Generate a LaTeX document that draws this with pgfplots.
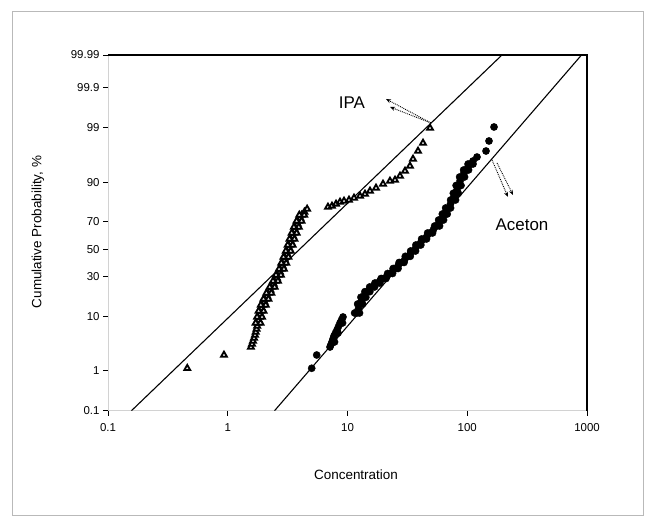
\documentclass[border=0pt]{standalone}
\usepackage{fontspec}
\setmainfont{Liberation Sans}
\usepackage{pgfplots}
\pgfplotsset{compat=1.18}
\usetikzlibrary{arrows.meta}
\begin{document}
\begin{tikzpicture}[x=1bp,y=1bp]
\useasboundingbox (0,0) rectangle (655,526);
\draw[gray!55, line width=1bp] (12,10) rectangle (643,514);
\begin{axis}[
  at={(108bp,115.3bp)}, anchor=south west,
  scale only axis, width=479bp, height=355.7bp,
  xmode=log, xmin=0.1, xmax=1000, ymin=-3.0902, ymax=3.7190,
  xtick={0.1,1,10,100,1000}, xticklabels={0.1,1,10,100,1000},
  xminorticks=false,
  ytick={-3.0902,-2.3263,-1.2816,-0.5244,0,0.5244,1.2816,2.3263,3.0902,3.7190},
  yticklabels={0.1,1,10,30,50,70,90,99,99.9,99.99},
  xtick pos=left, ytick pos=left,
  tick align=outside, major tick length=5bp,
  tick style={black, line width=0.9bp},
  axis line style={gray!35, line width=0.8bp},
  tick label style={font=\fontsize{11.5}{13}\selectfont},
  xticklabel style={yshift=-4bp},
  clip=true,
]
% fit lines
\addplot[black, line width=1.1bp] coordinates {(0.157,-3.0902) (195,3.7190)};
\addplot[black, line width=1.1bp] coordinates {(2.46,-3.0902) (900,3.7190)};
% IPA
\addplot[only marks, mark=triangle*, mark size=3.4bp, mark options={fill=black!10, draw=black, line width=1.8bp}] coordinates {
(0.459,-2.278) (0.93,-2.024)
(1.561,-1.871) (1.594,-1.813) (1.625,-1.756) (1.657,-1.698) (1.689,-1.641)
(1.712,-1.584) (1.739,-1.526) (1.762,-1.469) (1.789,-1.411) (1.813,-1.354)
(1.841,-1.296) (1.870,-1.239) (1.895,-1.182) (1.924,-1.124) (1.977,-1.067)
(2.027,-1.009) (2.083,-0.952) (2.135,-0.894) (2.202,-0.837) (2.271,-0.780)
(2.346,-0.722) (2.419,-0.665) (2.500,-0.607) (2.573,-0.550) (2.648,-0.492)
(2.726,-0.435) (2.806,-0.378) (2.871,-0.320) (2.933,-0.263) (2.995,-0.205)
(3.059,-0.148) (3.136,-0.090) (3.197,-0.033) (3.260,0.024) (3.317,0.082)
(3.381,0.139) (3.433,0.197) (3.507,0.254) (3.582,0.312) (3.651,0.369)
(3.736,0.426) (3.831,0.484) (3.936,0.541) (4.035,0.599) (4.145,0.656)
(4.366,0.714) (4.599,0.771)
(1.878,-1.411) (1.709,-1.411) (1.933,-1.296) (1.758,-1.296)
(1.990,-1.182) (1.810,-1.182) (2.076,-1.067) (1.888,-1.067)
(2.187,-0.952) (1.989,-0.952) (2.312,-0.837) (2.103,-0.837)
(2.463,-0.722) (2.240,-0.722) (2.625,-0.607) (2.388,-0.607)
(2.780,-0.492) (2.529,-0.492) (2.946,-0.378) (2.680,-0.378)
(3.080,-0.263) (2.801,-0.263) (3.212,-0.148) (2.921,-0.148)
(3.357,-0.033) (3.053,-0.033) (3.483,0.082) (3.168,0.082)
(3.605,0.197) (3.279,0.197) (3.761,0.312) (3.421,0.312)
(3.923,0.426) (3.568,0.426) (4.133,0.541) (3.759,0.541)
(4.352,0.656) (3.958,0.656)
(6.87,0.809) (7.42,0.828) (8.02,0.867) (8.66,0.905) (9.35,0.924)
(10.29,0.943) (11.33,0.982) (12.72,1.020) (14.00,1.058) (15.41,1.116)
(17.30,1.173) (19.80,1.250) (22.63,1.307) (24.93,1.326) (27.44,1.403)
(30.21,1.498) (33.25,1.594) (35.24,1.728) (38.80,1.881) (42.71,2.034)
(48.86,2.322)
};
% Aceton
\addplot[only marks, mark=*, mark size=3.6bp, mark options={fill=black, draw=black}] coordinates {
(5.023,-2.278) (5.531,-2.024)
(7.142,-1.871) (7.281,-1.823) (7.423,-1.775) (7.567,-1.718) (7.714,-1.660)
(7.940,-1.603) (8.172,-1.545) (8.411,-1.478) (8.658,-1.411) (8.911,-1.354)
(9.171,-1.296) (7.794,-1.775) (8.337,-1.603) (9.091,-1.411)
(12.00,-1.220) (12.36,-1.134) (12.72,-1.048) (13.14,-0.984) (13.55,-0.919)
(14.00,-0.856) (14.63,-0.812) (15.33,-0.766) (16.02,-0.722) (16.87,-0.684)
(17.74,-0.646) (18.68,-0.607) (19.98,-0.559) (21.38,-0.512) (22.64,-0.464)
(23.99,-0.416) (25.17,-0.368) (26.41,-0.320) (28.24,-0.253) (30.21,-0.186)
(31.82,-0.135) (33.45,-0.085) (35.24,-0.033) (37.11,0.024) (39.01,0.082)
(41.10,0.139) (43.53,0.197) (46.12,0.254) (48.86,0.312) (52.25,0.379)
(55.90,0.446) (58.09,0.503) (60.37,0.560) (62.74,0.618) (64.83,0.675)
(66.83,0.733) (69.06,0.790) (72.46,0.867) (76.03,0.943) (77.96,1.006)
(80.09,1.072) (82.11,1.135) (84.51,1.221) (87.00,1.307) (90.41,1.384)
(93.93,1.460) (97.61,1.518) (101.5,1.575) (106.4,1.632) (111.7,1.690)
(120.6,1.766)
(12.60,-1.220) (11.46,-1.220) (13.36,-1.048) (12.15,-1.048)
(14.23,-0.919) (12.94,-0.919) (15.36,-0.812) (13.97,-0.812)
(16.82,-0.722) (15.30,-0.722) (18.63,-0.646) (16.94,-0.646)
(20.98,-0.559) (19.08,-0.559) (23.77,-0.464) (21.62,-0.464)
(26.43,-0.368) (24.04,-0.368) (29.65,-0.253) (26.97,-0.253)
(33.41,-0.135) (30.39,-0.135) (37.00,-0.033) (33.65,-0.033)
(40.96,0.082) (37.25,0.082) (45.71,0.197) (41.57,0.197)
(51.30,0.312) (46.66,0.312) (58.70,0.446) (53.38,0.446)
(63.39,0.560) (57.65,0.560) (68.07,0.675) (61.91,0.675)
(72.51,0.790) (65.95,0.790) (79.83,0.943) (72.61,0.943)
(84.09,1.072) (76.49,1.072) (88.74,1.221) (80.71,1.221)
(94.93,1.384) (86.34,1.384) (102.5,1.518) (93.22,1.518)
(111.7,1.632) (101.6,1.632)
(143.4,1.881) (151.9,2.073) (167.3,2.341)
};
\end{axis}
% top and right frame of the plot
\draw[black, line width=2bp] (108,470.7) -- (587,470.7) -- (587,115.3);
% labels
\node[font=\fontsize{13.5}{15}\selectfont] at (356,51) {Concentration};
\node[rotate=90, font=\fontsize{13.5}{15}\selectfont] at (38,294) {Cumulative Probability, \%};
\node[font=\fontsize{17}{19}\selectfont] at (352,423) {IPA};
\node[font=\fontsize{17}{19}\selectfont] at (522,301) {Aceton};
% annotation arrows
\draw[densely dotted, line width=0.9bp, -{Stealth[length=5bp,width=4bp]}] (431,403) -- (386,427);
\draw[densely dotted, line width=0.9bp, -{Stealth[length=5bp,width=4bp]}] (431,403) -- (390,419);
\draw[densely dotted, line width=0.9bp, -{Stealth[length=5bp,width=4bp]}] (492,366) -- (508,329);
\draw[densely dotted, line width=0.9bp, -{Stealth[length=5bp,width=4bp]}] (497,363) -- (513,331);
\end{tikzpicture}
\end{document}
